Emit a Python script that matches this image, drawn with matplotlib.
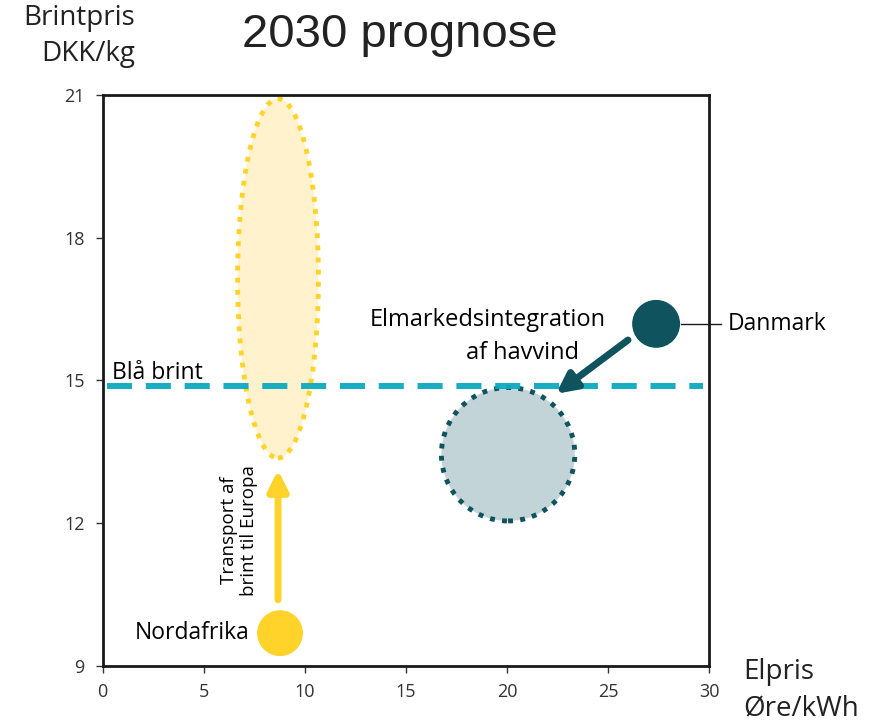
import matplotlib.pyplot as plt
from matplotlib.patches import Ellipse

# data
nordafrika = (8.78, 9.69)
danmark = (27.38, 16.19)
yellow_range_x = 8.68
yellow_range_y = (13.37, 20.92)
yellow_range_width = 4.0
dk_range_center = (20.06, 13.45)
dk_range_radius_x = 3.3
bla_brint = 14.88
bla_brint_span = (0.2, 29.7)
transport_arrow = ((8.68, 10.39), (8.68, 13.12))
havvind_arrow = ((25.99, 15.85), (22.43, 14.72))
x_ticks = [0, 5, 10, 15, 20, 25, 30]
y_ticks = [9, 12, 15, 18, 21]

YELLOW = "#FFD32A"
LIGHT_YELLOW = "#FFF2CC"
TEAL = "#0BA9BF"
DARK = "#0E535D"
GREY = "#C2D4D8"
FONT = "Open Sans"
DOTS = (0, (1, 1.5))

plt.rcParams["font.family"] = [FONT, "DejaVu Sans"]

fig = plt.figure(figsize=(8.74, 7.25), dpi=100)
ax = fig.add_axes([0.1173, 0.0814, 0.694, 0.7876])
ax.set_xlim(0, 30)
ax.set_ylim(9, 21)
ax.set_xticks(x_ticks)
ax.set_yticks(y_ticks)
ax.tick_params(axis="both", labelsize=13, color="#333333", labelcolor="#333333",
               length=5, width=1)
ax.tick_params(axis="x", pad=7)
ax.tick_params(axis="y", pad=8)
for sp in ax.spines.values():
    sp.set_linewidth(2)
    sp.set_color("#1a1a1a")

# px per data unit on each axis, to keep circles round
px_x = 0.694 * 874 / 30
px_y = 0.7876 * 725 / 12
ratio = px_x / px_y

# yellow range
ell = Ellipse((yellow_range_x, sum(yellow_range_y) / 2), yellow_range_width,
              yellow_range_y[1] - yellow_range_y[0], facecolor=LIGHT_YELLOW,
              edgecolor=YELLOW, linestyle=DOTS, linewidth=3.5, zorder=2)
ax.add_patch(ell)

# grey range for Danmark
grey = Ellipse(dk_range_center, 2 * dk_range_radius_x, 2 * dk_range_radius_x * ratio,
               facecolor=GREY, edgecolor=DARK, linestyle=DOTS,
               linewidth=3.5, zorder=2)
ax.add_patch(grey)

# blue hydrogen line
ax.plot(bla_brint_span, [bla_brint, bla_brint], color=TEAL, linewidth=4.3,
        linestyle=(0, (4.2, 2.3)), zorder=3, alpha=0.95)
ax.text(0.45, bla_brint + 0.02, "Blå brint", fontsize=16.5,
        va="bottom", ha="left", zorder=4)

# points
ax.add_patch(Ellipse(nordafrika, 2 * 1.1, 2 * 1.1 * ratio, color=YELLOW, zorder=4))
ax.add_patch(Ellipse(danmark, 2 * 1.15, 2 * 1.15 * ratio, color=DARK, zorder=4))

# arrows
ax.annotate("", xy=transport_arrow[1], xytext=transport_arrow[0],
            arrowprops=dict(arrowstyle="-|>,head_width=0.6,head_length=1.2",
                            color=YELLOW, lw=5, shrinkA=0, shrinkB=0), zorder=3)
ax.annotate("", xy=havvind_arrow[1], xytext=havvind_arrow[0],
            arrowprops=dict(arrowstyle="-|>,head_width=0.6,head_length=1.2",
                            color=DARK, lw=5, shrinkA=0, shrinkB=0), zorder=3)

# labels
ax.text(7.25, nordafrika[1], "Nordafrika", fontsize=16.5,
        ha="right", va="center")
ax.text(6.75, 11.85, "Transport af\nbrint til Europa", fontsize=13.5,
        rotation=90, ha="center", va="center", linespacing=1.15)
ax.text(19.07, 16.27, "Elmarkedsintegration", fontsize=17,
        ha="center", va="center")
ax.text(20.75, 15.58, "af havvind", fontsize=17,
        ha="center", va="center")
ax.plot([28.6, 30.6], [danmark[1], danmark[1]], color="#1a1a1a", lw=1,
        clip_on=False, zorder=5)
ax.text(30.9, danmark[1], "Danmark", fontsize=16.5,
        ha="left", va="center")

# axis titles and title
fig.text(0.155, 0.995, "Brintpris\nDKK/kg", fontsize=20,
         ha="right", va="top", linespacing=1.4, color="#222222")
fig.text(0.85, 0.003, "Elpris\nØre/kWh", fontsize=20,
         ha="left", va="bottom", linespacing=1.4, color="#222222")
fig.text(0.457, 0.952, "2030 prognose", fontsize=34, fontfamily="Liberation Sans",
         ha="center", va="center", color="#222222")

fig.savefig("out.png", dpi=100)
